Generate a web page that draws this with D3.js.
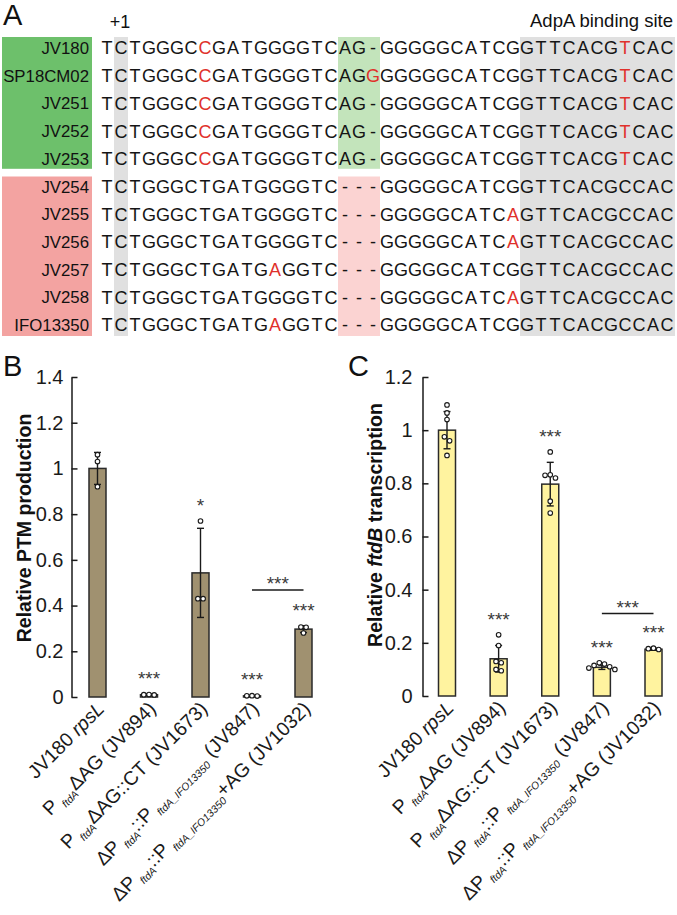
<!DOCTYPE html>
<html><head><meta charset="utf-8">
<script src="https://cdn.jsdelivr.net/npm/d3@7"></script>
<style>body{margin:0;background:#fff}svg{display:block}</style>
</head><body>
<svg id="fig" width="677" height="915"></svg>
<script>
// ---------- Panel A data ----------
const strains = ["JV180","SP18CM02","JV251","JV252","JV253","JV254","JV255","JV256","JV257","JV258","IFO13350"];
const groups  = ["g","g","g","g","g","p","p","p","p","p","p"];
const seqs = [
 "TCTGGGCCGATGGGGTCAG-GGGGGCATCGGTTCACGTCAC",
 "TCTGGGCCGATGGGGTCAGGGGGGGCATCGGTTCACGTCAC",
 "TCTGGGCCGATGGGGTCAG-GGGGGCATCGGTTCACGTCAC",
 "TCTGGGCCGATGGGGTCAG-GGGGGCATCGGTTCACGTCAC",
 "TCTGGGCCGATGGGGTCAG-GGGGGCATCGGTTCACGTCAC",
 "TCTGGGCTGATGGGGTC---GGGGGCATCGGTTCACGCCAC",
 "TCTGGGCTGATGGGGTC---GGGGGCATCAGTTCACGCCAC",
 "TCTGGGCTGATGGGGTC---GGGGGCATCAGTTCACGCCAC",
 "TCTGGGCTGATGAGGTC---GGGGGCATCGGTTCACGCCAC",
 "TCTGGGCTGATGGGGTC---GGGGGCATCAGTTCACGCCAC",
 "TCTGGGCTGATGAGGTC---GGGGGCATCGGTTCACGCCAC"
];
const redPos = [[7,37],[7,19,37],[7,37],[7,37],[7,37],[],[29],[29],[12],[29],[12]];
const tssCol = 1;            // "+1" column
const indelCols = [17, 19];  // AG- / --- region
const adpaCols = [30, 40];   // AdpA binding site

// ---------- Panel B data ----------
const categories = ["JV180 rpsL","PftdA ΔAG (JV894)","PftdA ΔAG::CT (JV1673)","ΔPftdA::PftdA_IFO13350 (JV847)","ΔPftdA::PftdA_IFO13350 +AG (JV1032)"];
const xLabelParts = [
 [["JV180 ","n"],["rpsL","i"]],
 [["P","n"],["ftdA","sub"],["ΔAG (JV894)","n"]],
 [["P","n"],["ftdA","sub"],["ΔAG::CT (JV1673)","n"]],
 [["ΔP","n"],["ftdA","sub"],["::P","n"],["ftdA_IFO13350","sub"],[" (JV847)","n"]],
 [["ΔP","n"],["ftdA","sub"],["::P","n"],["ftdA_IFO13350","sub"],["+AG (JV1032)","n"]]
];
const yTicksB = [0,0.2,0.4,0.6,0.8,1,1.2,1.4];
const yTickLabelsB = ["0","0.2","0.4","0.6","0.8","1","1.2","1.4"];
const meansB = [1.0, 0.01, 0.543, 0.005, 0.297];
const errB   = [0.07, 0.003, 0.195, 0.002, 0.015];
const pointsB = [[1.06,1.03,0.92],[0.011,0.01,0.009],[0.77,0.43,0.43],[0.006,0.005,0.004],[0.306,0.305,0.28]];
const sigB = ["","***","*","***","***"];
const bracketB = [3,4], bracketBValue = 0.468, bracketBLabel = "***";

// ---------- Panel C data ----------
const yTicksC = [0,0.2,0.4,0.6,0.8,1,1.2];
const yTickLabelsC = ["0","0.2","0.4","0.6","0.8","1","1.2"];
const meansC = [1.0, 0.14, 0.797, 0.108, 0.176];
const errC   = [0.07, 0.05, 0.082, 0.008, 0.004];
const pointsC = [[1.095,1.065,1.04,0.975,0.96,0.905],[0.23,0.19,0.13,0.125,0.1,0.095],[0.918,0.832,0.83,0.82,0.733,0.688],[0.125,0.12,0.115,0.11,0.105,0.1],[0.18,0.178,0.175]];
const sigC = ["","***","***","***","***"];
const bracketC = [3,4], bracketCValue = 0.31, bracketCLabel = "***";

// ---------- drawing ----------
const FONT = "'Liberation Sans', Arial, Helvetica, sans-serif";
const INK = "#1a1a1a";
const svg = d3.select("#fig").attr("font-family", FONT);
svg.append("rect").attr("width",677).attr("height",915).attr("fill","#fff");

// Panel A
(function(){
  const g = svg.append("g");
  const rowY = d3.scaleLinear().domain([0, strains.length-1]).range([48, 325]);
  const colX = d3.scaleLinear().domain([0, seqs[0].length-1]).range([107, 667]);
  const half = 7;
  const gIdx = groups.map((d,i)=>d==="g"?i:-1).filter(i=>i>=0);
  const pIdx = groups.map((d,i)=>d==="p"?i:-1).filter(i=>i>=0);
  const blocks = [
    {rows:gIdx, dark:"#6dc06b", light:"#c3e4bb"},
    {rows:pIdx, dark:"#f3a3a1", light:"#fbd3d2"}
  ];
  const y0 = rowY(0)-11, y1 = rowY(strains.length-1)+11;
  g.append("rect").attr("x", colX(tssCol)-half).attr("width", 2*half)
    .attr("y", y0).attr("height", y1-y0).attr("fill","#e0e0e0");
  g.append("rect").attr("x", colX(adpaCols[0])-half).attr("width", colX(adpaCols[1])-colX(adpaCols[0])+2*half+1)
    .attr("y", y0).attr("height", y1-y0).attr("fill","#e0e0e0");
  blocks.forEach((b,bi)=>{
    const top = rowY(b.rows[0]) - (bi===0?11:10);
    const bot = rowY(b.rows[b.rows.length-1]) + (bi===0?10:11);
    g.append("rect").attr("x",2).attr("width",90).attr("y",top).attr("height",bot-top).attr("fill",b.dark);
    g.append("rect").attr("x",colX(indelCols[0])-half).attr("width",colX(indelCols[1])-colX(indelCols[0])+2*half)
      .attr("y",top).attr("height",bot-top).attr("fill",b.light);
  });
  g.selectAll("text.lab").data(strains).join("text")
    .attr("x",89).attr("y",(d,i)=>rowY(i)).attr("dy","0.36em")
    .attr("text-anchor","end").attr("font-size",16.8).attr("fill","#111").text(d=>d);
  seqs.forEach((s,i)=>{
    g.selectAll(null).data(s.split("")).join("text")
      .attr("x",(d,j)=>colX(j)).attr("y",rowY(i)).attr("dy","0.36em")
      .attr("text-anchor","middle").attr("font-size",18)
      .attr("fill",(d,j)=>redPos[i].includes(j)?"#e0312b":"#151515").text(d=>d);
  });
  g.append("text").attr("x",3).attr("y",25).attr("font-size",29).attr("fill","#111").text("A");
  g.append("text").attr("x",colX(tssCol)-1).attr("y",28).attr("text-anchor","middle").attr("font-size",18).attr("fill","#111").text("+1");
  g.append("text").attr("x",673).attr("y",27).attr("text-anchor","end").attr("font-size",18.5).attr("fill","#111").text("AdpA binding site");
})();

// horizontal spreading of overlapping replicate points (centered clusters)
function spreadPoints(vals, y, r){
  const items = vals.map((v,i)=>({i, py:y(v)})).sort((a,b)=>a.py-b.py);
  const clusters = [];
  items.forEach(it=>{
    const last = clusters[clusters.length-1];
    if(last && it.py - last[last.length-1].py < 2*r+0.6) last.push(it);
    else clusters.push([it]);
  });
  const res = new Array(vals.length);
  clusters.forEach(c=>{
    const n = c.length;
    // interleave: centre slots first, then alternate outward
    const slots = d3.range(n).map(k=>(k-(n-1)/2)*5.2).sort((a,b)=>Math.abs(a)-Math.abs(b));
    c.forEach((it,k)=>{ res[it.i] = {dx:slots[k], py:it.py}; });
  });
  return res;
}

function drawChart(o){
  const g = svg.append("g");
  const x = d3.scalePoint().domain(d3.range(o.means.length)).range(o.xRange);
  const y = d3.scaleLinear().domain([0, o.ticks[o.ticks.length-1]]).range(o.yRange);
  const bw = 17;
  const ax = g.append("g").attr("transform",`translate(${o.axisX},0)`)
    .call(d3.axisLeft(y).tickValues(o.ticks).tickFormat((d,i)=>o.tickLabels[i])
      .tickSizeInner(-6).tickSizeOuter(0).tickPadding(o.pad));
  ax.select(".domain").attr("stroke",INK).attr("stroke-width",1.5);
  ax.selectAll(".tick line").attr("stroke",INK).attr("stroke-width",1.5);
  ax.selectAll(".tick text").attr("font-size",20).attr("fill",INK).attr("font-family",FONT);
  g.selectAll("rect.bar").data(o.means).join("rect")
    .attr("x",(d,i)=>x(i)-bw/2).attr("width",bw)
    .attr("y",d=>y(d)).attr("height",d=>y(0)-y(d))
    .attr("fill",o.fill).attr("stroke","#2a2a2a").attr("stroke-width",1.5);
  o.means.forEach((m,i)=>{
    const cx = x(i), t = y(m+o.err[i]), b = y(Math.max(0,m-o.err[i]));
    const eg = g.append("g").attr("stroke",INK).attr("stroke-width",1.4);
    eg.append("line").attr("x1",cx).attr("x2",cx).attr("y1",t).attr("y2",b);
    eg.append("line").attr("x1",cx-3.5).attr("x2",cx+3.5).attr("y1",t).attr("y2",t);
    eg.append("line").attr("x1",cx-3.5).attr("x2",cx+3.5).attr("y1",b).attr("y2",b);
  });
  const r = 2.3;
  o.points.forEach((pts,i)=>{
    const pos = spreadPoints(pts, y, r);
    g.selectAll(null).data(pos).join("circle")
      .attr("cx",d=>x(i)+d.dx).attr("cy",d=>d.py).attr("r",r)
      .attr("fill","#fff").attr("stroke",INK).attr("stroke-width",1.1);
  });
  o.sig.forEach((s,i)=>{
    if(!s) return;
    const top = Math.min(y(d3.max(o.points[i])), y(o.means[i]+o.err[i]));
    g.append("text").attr("x",x(i)).attr("y",top-9).attr("text-anchor","middle")
      .attr("font-size",19).attr("fill","#3a3a3a").text(s);
  });
  const by = y(o.bracketValue);
  g.append("line").attr("x1",x(o.bracket[0])).attr("x2",x(o.bracket[1])).attr("y1",by).attr("y2",by)
    .attr("stroke",INK).attr("stroke-width",1.5);
  g.append("text").attr("x",(x(o.bracket[0])+x(o.bracket[1]))/2).attr("y",by).attr("text-anchor","middle")
    .attr("font-size",19).attr("fill","#3a3a3a").text(o.bracketLabel);
  xLabelParts.forEach((parts,i)=>{
    const t = g.append("text")
      .attr("transform",`translate(${x(i)+o.lblDx},${y(0)+o.lblDy}) rotate(-45)`)
      .attr("text-anchor","end").attr("font-size",19.5).attr("fill",INK);
    let shifted = false;
    parts.forEach(([txt,style])=>{
      const ts = t.append("tspan").text(txt);
      if(style==="sub"){
        ts.attr("font-size",10.5).attr("font-style","italic").attr("dy",5).attr("dx",4);
        shifted = true;
      } else {
        if(shifted){ ts.attr("dy",-5); shifted=false; }
        if(style==="i") ts.attr("font-style","italic");
      }
    });
  });
  const tt = g.append("text").attr("transform",`translate(${o.titleX},${o.titleY}) rotate(-90)`)
    .attr("text-anchor","middle").attr("font-size",19.5).attr("font-weight","bold").attr("fill","#111");
  o.title.forEach(([txt,style])=>{ const ts=tt.append("tspan").text(txt); if(style==="i") ts.attr("font-style","italic"); });
  g.append("text").attr("x",o.letterX).attr("y",376).attr("font-size",29).attr("fill","#111").text(o.letter);
}

drawChart({
  means:meansB, err:errB, points:pointsB, sig:sigB, ticks:yTicksB, tickLabels:yTickLabelsB,
  bracket:bracketB, bracketValue:bracketBValue, bracketLabel:bracketBLabel,
  xRange:[97.5,303.5], yRange:[697,377], axisX:71.5, pad:8, fill:"#a09170",
  lblDx:8, lblDy:13, titleX:31, titleY:528,
  title:[["Relative PTM production","n"]], letter:"B", letterX:3
});
drawChart({
  means:meansC, err:errC, points:pointsC, sig:sigC, ticks:yTicksC, tickLabels:yTickLabelsC,
  bracket:bracketC, bracketValue:bracketCValue, bracketLabel:bracketCLabel,
  xRange:[447,653.5], yRange:[696,377], axisX:422.5, pad:10, fill:"#fff39f",
  lblDx:8, lblDy:13, titleX:382, titleY:525,
  title:[["Relative ","n"],["ftdB","i"],[" transcription","n"]], letter:"C", letterX:348
});
</script>
</body></html>
